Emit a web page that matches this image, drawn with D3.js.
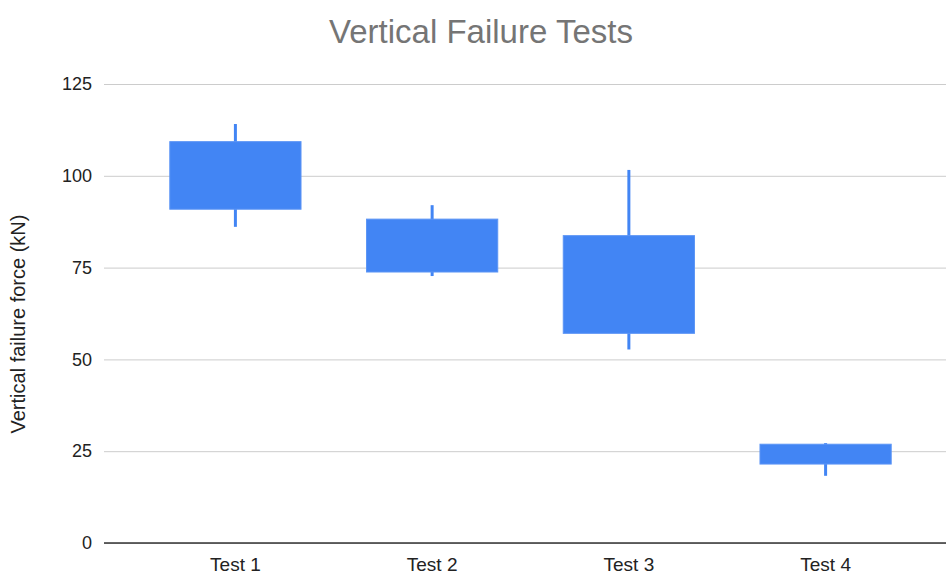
<!DOCTYPE html>
<html>
<head>
<meta charset="utf-8">
<script src="https://cdn.jsdelivr.net/npm/d3@7"></script>
<style>
  body { margin: 0; background: #fff; overflow: hidden; }
  svg { display: block; font-family: Arial, "Liberation Sans", sans-serif; }
</style>
</head>
<body>
<svg width="946" height="574"></svg>
<script>
var tests = ["Test 1", "Test 2", "Test 3", "Test 4"];
var low   = [86.1, 72.7, 52.7, 18.3];
var open  = [90.9, 73.8, 57.1, 21.5];
var close = [109.3, 88.2, 83.7, 26.9];
var high  = [114.1, 92.0, 101.6, 27.2];
var yTicks = [0, 25, 50, 75, 100, 125];

var svg = d3.select('svg');

var x = d3.scaleBand()
	.domain(tests)
	.range([137, 924])
	.paddingInner(0.333)
	.paddingOuter(0.1667);

var y = d3.scaleLinear()
	.domain([0, 125])
	.range([543, 84]);

var candles = tests.map(function(t, i) {
	return {name: t, low: low[i], open: open[i], close: close[i], high: high[i]};
});

// title
svg.append('text')
	.attr('x', 481)
	.attr('y', 43)
	.attr('text-anchor', 'middle')
	.style('font-size', '33px')
	.style('fill', '#757575')
	.text('Vertical Failure Tests');

// gridlines + y labels
var yAxis = d3.axisLeft(y)
	.tickValues(yTicks)
	.tickSize(-842)
	.tickPadding(12);

var gy = svg.append('g')
	.attr('transform', 'translate(104,0)')
	.call(yAxis);
gy.select('.domain').remove();
gy.selectAll('.tick line')
	.attr('stroke', '#cccccc')
	.attr('stroke-width', 1);
gy.selectAll('.tick text')
	.attr('x', -12)
	.style('font-size', '18px')
	.style('fill', '#222')
	.style('font-family', 'Arial, "Liberation Sans", sans-serif');

// y axis title
svg.append('text')
	.attr('transform', 'translate(25,324) rotate(-90)')
	.attr('text-anchor', 'middle')
	.style('font-size', '20px')
	.style('fill', '#222')
	.text('Vertical failure force (kN)');

// wicks
svg.selectAll('line.wick')
	.data(candles)
	.enter()
	.append('line')
	.attr('class', 'wick')
	.attr('x1', function(d) { return x(d.name) + x.bandwidth() / 2; })
	.attr('x2', function(d) { return x(d.name) + x.bandwidth() / 2; })
	.attr('y1', function(d) { return y(d.high); })
	.attr('y2', function(d) { return y(d.low); })
	.attr('stroke', '#4285f4')
	.attr('stroke-width', 3);

// bodies
svg.selectAll('rect.body')
	.data(candles)
	.enter()
	.append('rect')
	.attr('class', 'body')
	.attr('x', function(d) { return x(d.name); })
	.attr('width', x.bandwidth())
	.attr('y', function(d) { return y(Math.max(d.open, d.close)); })
	.attr('height', function(d) { return Math.abs(y(d.open) - y(d.close)); })
	.attr('fill', '#4285f4')
	.attr('stroke', '#5c95f5')
	.attr('stroke-width', 1);

// baseline
svg.append('line')
	.attr('x1', 104)
	.attr('x2', 946)
	.attr('y1', y(0))
	.attr('y2', y(0))
	.attr('stroke', '#333')
	.attr('stroke-width', 1.5);

// x labels
var gx = svg.append('g')
	.attr('transform', 'translate(0,' + y(0) + ')')
	.call(d3.axisBottom(x).tickSize(0).tickPadding(15));
gx.select('.domain').remove();
gx.selectAll('.tick text')
	.style('font-size', '19px')
	.style('fill', '#222')
	.style('font-family', 'Arial, "Liberation Sans", sans-serif');
</script>
</body>
</html>
